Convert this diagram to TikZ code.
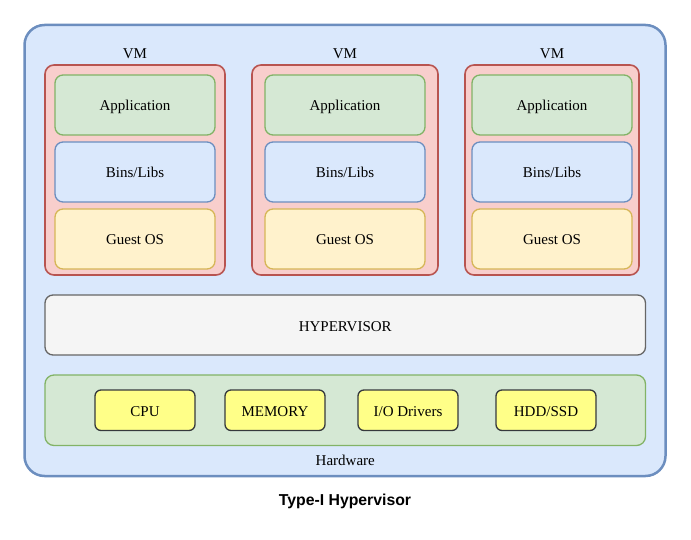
\documentclass[tikz,border=0pt]{standalone}
\usepackage{fontspec}
\setmainfont{Liberation Serif}
\newfontfamily\titlefont{Liberation Sans}
\usetikzlibrary{positioning}

\definecolor{hostfill}{HTML}{DAE8FC}
\definecolor{hostline}{HTML}{6C8EBF}
\definecolor{vmfill}{HTML}{F8CECC}
\definecolor{vmline}{HTML}{B85450}
\definecolor{appfill}{HTML}{D5E8D4}
\definecolor{appline}{HTML}{82B366}
\definecolor{osfill}{HTML}{FFF2CC}
\definecolor{osline}{HTML}{D6B656}
\definecolor{hypfill}{HTML}{F5F5F5}
\definecolor{hypline}{HTML}{666666}
\definecolor{chipfill}{HTML}{FFFF88}
\definecolor{chipline}{HTML}{36393D}

\begin{document}
\begin{tikzpicture}[
    x=1pt, y=-1pt,
    node distance=7pt,
    every node/.style={font=\fontsize{15}{18}\selectfont, text height=12pt, text depth=0pt, outer sep=0pt},
    hostbox/.style={draw=hostline, fill=hostfill, line width=2.5pt, rounded corners=20pt},
    vmbox/.style={draw=vmline, fill=vmfill, line width=1.6pt, rounded corners=9pt, minimum height=210pt},
    layer/.style={line width=1.3pt, rounded corners=8pt, minimum width=160pt, minimum height=60pt},
    app/.style={layer, draw=appline, fill=appfill},
    bins/.style={layer, draw=hostline, fill=hostfill},
    guestos/.style={layer, draw=osline, fill=osfill},
    hypbox/.style={draw=hypline, fill=hypfill, line width=1.3pt, rounded corners=8pt, minimum width=600.5pt, minimum height=60pt},
    hwbox/.style={draw=appline, fill=appfill, line width=1.3pt, rounded corners=9pt, minimum width=600.5pt, minimum height=70.5pt},
    chip/.style={draw=chipline, fill=chipfill, line width=1.3pt, rounded corners=6pt, minimum width=100pt, minimum height=40.5pt}
  ]
    \useasboundingbox (0,0) rectangle (691,540);

    \node (host) [hostbox, minimum width=641pt, minimum height=451pt] at (345,250.5) {};

    % virtual machines
    \node (vm1) [vmbox, minimum width=180pt] at (135,170) {};
    \node (vm1-label) [above=3.5pt of vm1] {VM};
    \node (app1) [app, below=10pt of vm1.north] {Application};
    \node (bins1) [bins, below=of app1] {Bins/Libs};
    \node (guest1) [guestos, below=of bins1] {Guest OS};

    \node (vm2) [vmbox, minimum width=186pt] at (345,170) {};
    \node (vm2-label) [above=3.5pt of vm2] {VM};
    \node (app2) [app, below=10pt of vm2.north] {Application};
    \node (bins2) [bins, below=of app2] {Bins/Libs};
    \node (guest2) [guestos, below=of bins2] {Guest OS};

    \node (vm3) [vmbox, minimum width=174pt] at (552,170) {};
    \node (vm3-label) [above=3.5pt of vm3] {VM};
    \node (app3) [app, below=10pt of vm3.north] {Application};
    \node (bins3) [bins, below=of app3] {Bins/Libs};
    \node (guest3) [guestos, below=of bins3] {Guest OS};

    % hypervisor and hardware
    \node (hypervisor) [hypbox] at (345.25,325) {HYPERVISOR};
    \node (hardware) [hwbox] at (345.25,410.25) {};
    \node (hw-label) [below=5pt of hardware] {Hardware};

    \node (cpu) [chip] at (145,410.25) {CPU};
    \node (memory) [chip] at (275,410.25) {MEMORY};
    \node (iodrv) [chip] at (408,410.25) {I/O Drivers};
    \node (disk) [chip] at (546,410.25) {HDD/SSD};

    \node (title) [font=\titlefont\bfseries\fontsize{15.8}{18}\selectfont] at (345,499.5) {Type-I Hypervisor};
  \end{tikzpicture}
\end{document}
